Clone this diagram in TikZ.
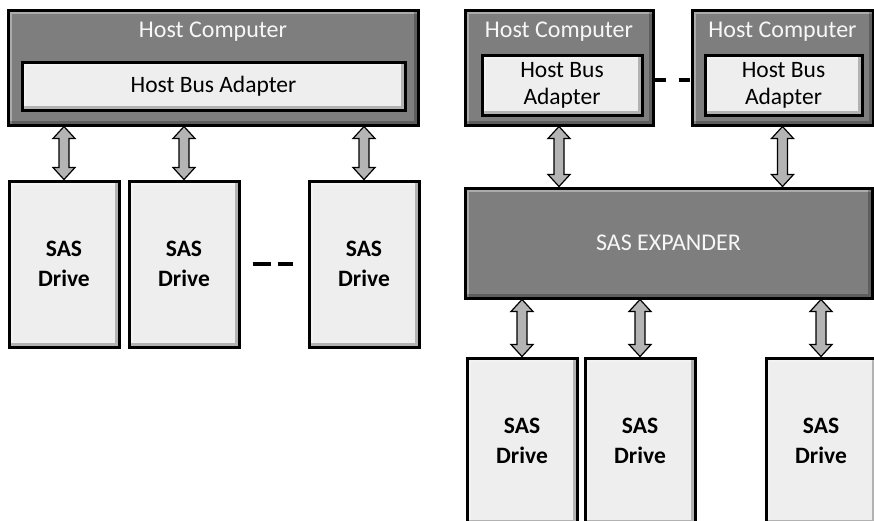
\documentclass[tikz,border=0pt]{standalone}
\usepackage{fontspec}
\setmainfont{Carlito}
\usetikzlibrary{positioning,calc}

\definecolor{hostgray}{HTML}{7E7E7E}
\definecolor{cardgray}{HTML}{EEEEEE}
\definecolor{arrowgray}{HTML}{B4B4B4}

\tikzstyle{bevel} = [path picture={
	\draw[line width=8pt, white, opacity=.35] (path picture bounding box.south west) -- (path picture bounding box.north west) -- (path picture bounding box.north east);
	\draw[line width=8pt, black, opacity=.25] (path picture bounding box.north east) -- (path picture bounding box.south east) -- (path picture bounding box.south west);}]
\tikzstyle{hostbox} = [rectangle, draw = black, line width=3pt, fill = hostgray, inner sep=0pt, bevel]
\tikzstyle{hbabox} = [rectangle, draw = black, line width=3pt, fill = cardgray, inner sep=0pt, align=center, font=\fontsize{23.5}{27}\selectfont, bevel]
\tikzstyle{drivebox} = [rectangle, draw = black, line width=3pt, fill = cardgray, inner sep=0pt, minimum width=110pt, minimum height=166pt, align=center, font=\fontsize{23.5}{30}\selectfont\bfseries, bevel]
\tikzstyle{hosttext} = [inner sep=0pt, text=gray!6, font=\fontsize{24}{28}\selectfont]
\tikzstyle{gapdash} = [line width=3.5pt]
\tikzstyle{busarrow} = [draw = black, line width=1.2pt, fill = arrowgray, line join=miter,
	to path={let \p1=(\tikztostart), \p2=(\tikztotarget) in
		(\x1,\y1) -- (\x1+11pt,\y1-12pt) -- (\x1+5pt,\y1-12pt) -- (\x1+5pt,\y2+12pt) -- (\x1+11pt,\y2+12pt)
		-- (\x1,\y2) -- (\x1-11pt,\y2+12pt) -- (\x1-5pt,\y2+12pt) -- (\x1-5pt,\y1-12pt) -- (\x1-11pt,\y1-12pt) -- cycle}]

\begin{document}
\begin{tikzpicture}[x=1pt, y=-1pt]
	\useasboundingbox (0,0) rectangle (874,520);

	% direct attached
	\node (hostL) [hostbox, minimum width=410pt, minimum height=115pt] at (213,67.5) {};
	\node (hostLname) [hosttext, below=13pt of hostL.north] {Host Computer};
	\node (hbaL) [hbabox, minimum width=383pt, minimum height=48pt] at (213.5,86) {Host Bus Adapter};
	\node (d1) [drivebox] at (64,264) {SAS\\Drive};
	\node (d2) [drivebox] at (184,264) {SAS\\Drive};
	\node (d3) [drivebox] at (364,264) {SAS\\Drive};

	\draw [busarrow] (hostL.south -| d1.north) to (d1.north);
	\draw [busarrow] (hostL.south -| d2.north) to (d2.north);
	\draw [busarrow] (hostL.south -| d3.north) to (d3.north);
	\draw [gapdash, dash pattern=on 18pt off 7pt] ([xshift=12pt]d2.east) -- ([xshift=-15pt]d3.west);

	% expander attached
	\node (hostA) [hostbox, minimum width=188pt, minimum height=115pt] at (559,67.5) {};
	\node (hostAname) [hosttext, below=13pt of hostA.north] {Host Computer};
	\node (hbaA) [hbabox, minimum width=160pt, minimum height=60pt] at (562,85) {Host Bus\\Adapter};
	\node (hostB) [hostbox, minimum width=181pt, minimum height=115pt] at (782.5,67.5) {};
	\node (hostBname) [hosttext, below=13pt of hostB.north] {Host Computer};
	\node (hbaB) [hbabox, minimum width=157pt, minimum height=60pt] at (783.5,85) {Host Bus\\Adapter};
	\draw [gapdash, dash pattern=on 11pt off 13pt] ([yshift=-12.5pt]hostA.east) -- ([yshift=-12.5pt]hostB.west);

	\node (exp) [hostbox, minimum width=407pt, minimum height=110pt] at (668.5,243) {};
	\node (expname) [hosttext] at (exp.center) {SAS EXPANDER};

	\node (e1) [drivebox] at (522,441) {SAS\\Drive};
	\node (e2) [drivebox] at (640,441) {SAS\\Drive};
	\node (e3) [drivebox] at (821,441) {SAS\\Drive};

	\draw [busarrow] (hostA.south) to (hostA.south |- exp.north);
	\draw [busarrow] (hostB.south) to (hostB.south |- exp.north);
	\draw [busarrow] (exp.south -| e1.north) to (e1.north);
	\draw [busarrow] (exp.south -| e2.north) to (e2.north);
	\draw [busarrow] (exp.south -| e3.north) to (e3.north);
\end{tikzpicture}
\end{document}
